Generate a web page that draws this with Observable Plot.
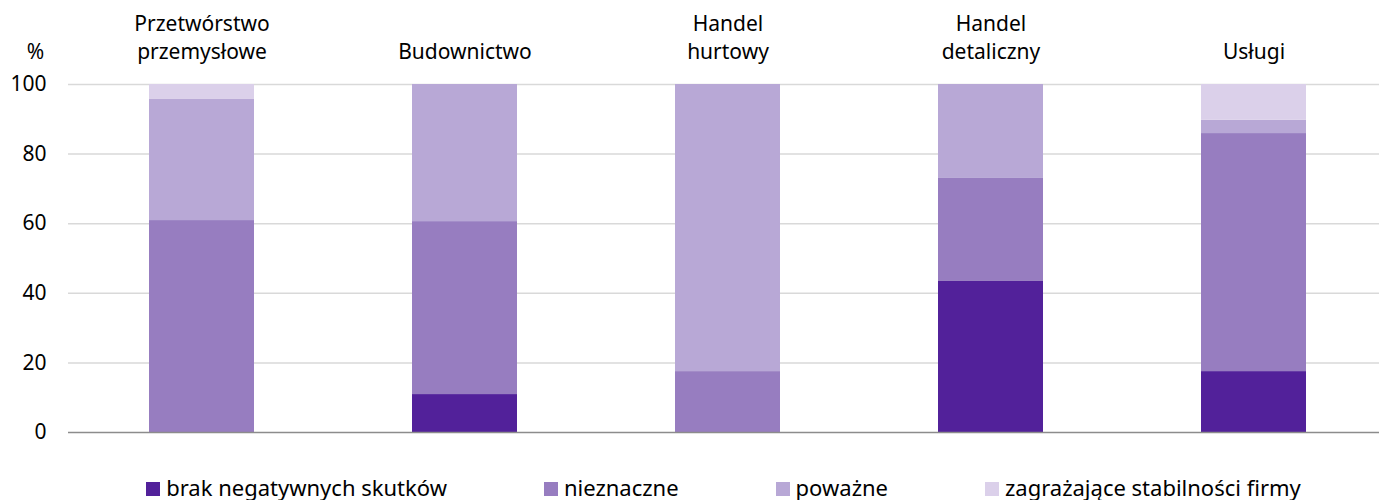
<!DOCTYPE html>
<html><head><meta charset="utf-8">
<script src="https://cdn.jsdelivr.net/npm/d3@7"></script>
<script src="https://cdn.jsdelivr.net/npm/@observablehq/plot@0.6"></script>
<style>
body{margin:0;background:#fff;font-family:"Noto Sans",sans-serif;}
#legend{display:flex;justify-content:center;gap:97px;padding-left:68px;height:40px;margin-top:7px;align-items:center;font-size:22px;color:#000;}
#legend span.sw{display:inline-block;width:14px;height:14px;margin-right:6px;vertical-align:middle;position:relative;top:-1px}
</style></head>
<body><div id="chart"></div><div id="legend"></div>
<script>
const categories = ["Przetwórstwo\nprzemysłowe","Budownictwo","Handel\nhurtowy","Handel\ndetaliczny","Usługi"];
const seriesNames = ["brak negatywnych skutków","nieznaczne","poważne","zagrażające stabilności firmy"];
const colors = ["#52219a","#977dc0","#b8a8d6","#dbd0ea"];
const brak = [0, 10.9, 0, 43.4, 17.5];
const nieznaczne = [60.9, 49.7, 17.5, 29.6, 68.4];
const powazne = [34.8, 39.4, 82.5, 27.0, 3.8];
const zagrazajace = [4.3, 0, 0, 0, 10.3];
const yTicks = [0,20,40,60,80,100];

const series = [brak, nieznaczne, powazne, zagrazajace];
const data = [];
series.forEach((vals, si) => vals.forEach((v, ci) => data.push({cat: categories[ci], s: seriesNames[si], v})));

const chart = Plot.plot({
  width: 1379, height: 460,
  marginLeft: 68, marginRight: 0, marginTop: 84, marginBottom: 28,
  style: {fontFamily: '"Noto Sans", sans-serif', fontSize: "21px", color: "#000", background: "#fff"},
  x: {domain: categories, paddingInner: 0.6, paddingOuter: 0.3, range: [69, 1387], label: null},
  y: {domain: [0,100], ticks: yTicks, label: null},
  color: {domain: seriesNames, range: colors},
  marks: [
    Plot.gridY(yTicks.filter(d => d > 0), {stroke: "#d9d9d9", strokeOpacity: 1, strokeWidth: 1.5}),
    Plot.barY(data, Plot.stackY({x: "cat", y: "v", fill: "s", order: seriesNames})),
    Plot.ruleY([0], {stroke: "#8c8c8c", strokeWidth: 1.5}),
    Plot.axisX({anchor: "top", tickSize: 0, tickPadding: 26, lineHeight: 1.32, fontSize: 21, label: null}),
    Plot.axisY({ticks: yTicks, tickSize: 0, tickPadding: 22, fontSize: 21, label: null}),
    Plot.text(["%"], {frameAnchor: "top-left", dx: -33, dy: -40, textAnchor: "middle", fontSize: 21})
  ]
});
document.getElementById("chart").appendChild(chart);

const lg = document.getElementById("legend");
seriesNames.forEach((n, i) => {
  const d = document.createElement("div");
  d.innerHTML = `<span class="sw" style="background:${colors[i]}"></span>${n}`;
  lg.appendChild(d);
});
</script></body></html>
